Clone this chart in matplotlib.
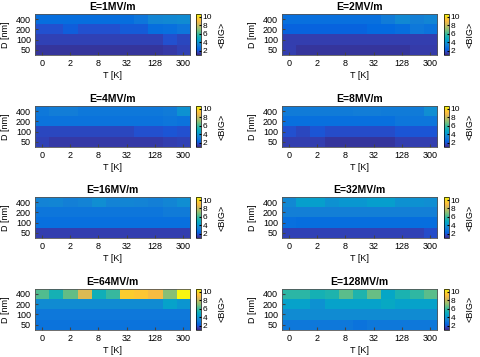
import matplotlib
matplotlib.use('Agg')
import matplotlib.pyplot as plt
import numpy as np
from matplotlib.colors import LinearSegmentedColormap

plt.rcParams['font.family'] = ['Liberation Sans', 'DejaVu Sans']

# Datos: filas D = 50, 100, 200, 400 nm ; columnas T
t_labels = ['0', '2', '8', '32', '128', '300']
d_labels = ['50', '100', '200', '400']
titles = ['E=1MV/m', 'E=2MV/m', 'E=4MV/m', 'E=8MV/m',
          'E=16MV/m', 'E=32MV/m', 'E=64MV/m', 'E=128MV/m']

e1 = [[1.3, 1.3, 1.3, 1.3, 1.3, 1.3, 1.3, 1.3, 1.3, 1.4, 1.6],
      [1.6, 1.6, 1.6, 1.6, 1.6, 1.6, 1.6, 1.6, 1.6, 1.9, 1.7],
      [1.9, 1.9, 2.2, 1.9, 1.9, 1.9, 2.1, 2.1, 2.6, 2.7, 2.9],
      [2.6, 2.6, 2.6, 2.6, 2.6, 2.6, 2.6, 2.9, 3.5, 3.6, 3.7]]
e2 = [[1.5, 1.3, 1.3, 1.3, 1.3, 1.3, 1.3, 1.3, 1.3, 1.45, 1.45],
      [1.5, 1.5, 1.5, 1.5, 1.5, 1.5, 1.5, 1.5, 1.5, 1.5, 1.5],
      [2.3, 2.3, 2.3, 2.3, 2.3, 2.3, 2.5, 2.5, 2.6, 3.0, 2.8],
      [2.7, 2.7, 2.7, 2.7, 2.7, 2.7, 2.7, 3.1, 3.6, 3.3, 3.5]]
e4 = [[1.6, 1.4, 1.4, 1.4, 1.4, 1.4, 1.4, 1.4, 1.4, 1.5, 1.6],
      [1.7, 1.7, 1.7, 1.7, 1.7, 1.7, 1.7, 1.9, 1.9, 2.0, 1.9],
      [2.8, 2.8, 2.8, 2.8, 2.8, 2.8, 2.8, 2.8, 2.8, 2.9, 2.8],
      [3.0, 3.2, 3.2, 3.0, 3.0, 3.0, 3.0, 3.0, 3.0, 3.1, 3.9]]
e8 = [[1.5, 1.5, 1.5, 1.3, 1.3, 1.3, 1.3, 1.3, 1.5, 1.5, 1.5],
      [1.9, 1.7, 2.0, 1.8, 1.8, 1.8, 1.8, 1.8, 2.0, 2.0, 2.0],
      [2.7, 2.7, 2.7, 2.7, 2.7, 2.7, 2.7, 2.7, 2.9, 2.9, 2.9],
      [3.1, 3.1, 3.1, 3.1, 3.1, 3.2, 3.2, 3.1, 3.1, 3.1, 3.8]]
e16 = [[1.5, 1.5, 1.5, 1.5, 1.5, 1.5, 1.5, 1.5, 1.5, 1.5, 1.5],
       [2.7, 2.7, 2.7, 2.7, 2.7, 2.7, 2.7, 2.7, 2.7, 2.7, 2.7],
       [2.9, 2.9, 2.9, 2.9, 2.9, 2.9, 2.9, 2.9, 2.9, 3.1, 3.1],
       [3.4, 3.5, 3.3, 3.4, 3.8, 3.4, 3.5, 3.4, 3.3, 3.5, 3.8]]
e32 = [[1.6, 1.6, 1.6, 1.6, 1.6, 1.6, 1.6, 1.6, 1.6, 1.6, 1.8],
       [2.7, 2.6, 2.6, 2.6, 2.6, 2.6, 2.6, 2.6, 2.6, 2.6, 2.6],
       [3.3, 3.3, 3.3, 3.3, 3.3, 3.3, 3.3, 3.3, 3.3, 3.3, 3.3],
       [3.6, 4.4, 4.4, 3.9, 4.1, 4.1, 4.3, 4.3, 3.9, 3.9, 3.8]]
e64 = [[2.8, 2.8, 2.8, 2.8, 2.8, 2.8, 2.8, 2.8, 2.8, 2.8, 2.8],
       [3.0, 3.0, 3.0, 3.0, 3.0, 3.0, 3.0, 3.0, 3.0, 3.0, 3.0],
       [3.7, 3.7, 3.7, 3.7, 3.7, 3.7, 3.7, 3.7, 3.7, 4.5, 4.0],
       [6.3, 5.3, 6.5, 8.4, 5.2, 5.9, 9.6, 9.4, 9.0, 7.0, 10.6]]
e128 = [[3.0, 3.0, 3.0, 3.0, 3.0, 2.8, 3.0, 3.0, 3.0, 3.0, 3.0],
        [3.7, 3.7, 3.7, 3.7, 3.7, 3.7, 3.7, 3.7, 3.7, 3.7, 3.7],
        [4.5, 4.5, 3.9, 4.5, 4.5, 4.5, 4.5, 4.8, 4.5, 4.5, 4.5],
        [5.7, 5.7, 5.3, 5.5, 6.4, 5.5, 6.6, 4.7, 5.4, 5.8, 6.4]]

datos = [e1, e2, e4, e8, e16, e32, e64, e128]

# Mapa de colores parula (version R2014b, muestras de la tabla de 64)
parula = LinearSegmentedColormap.from_list('parula', [
    (0.2081, 0.1663, 0.5292), (0.2081, 0.2386, 0.6771), (0.1253, 0.3242, 0.8303),
    (0.0060, 0.4086, 0.8828), (0.0498, 0.4586, 0.8641), (0.0779, 0.5040, 0.8384),
    (0.0641, 0.5570, 0.8240), (0.0265, 0.6137, 0.8135), (0.0228, 0.6535, 0.7768),
    (0.0590, 0.6838, 0.7254), (0.1453, 0.7098, 0.6646), (0.2586, 0.7317, 0.5954),
    (0.3953, 0.7459, 0.5244), (0.5300, 0.7491, 0.4661), (0.6473, 0.7456, 0.4188),
    (0.7525, 0.7384, 0.3768), (0.8507, 0.7299, 0.3360), (0.9450, 0.7261, 0.2886),
    (0.9990, 0.7653, 0.2164), (0.9789, 0.8271, 0.1633), (0.9589, 0.8949, 0.1132),
    (0.9763, 0.9831, 0.0538)])

fig = plt.figure(figsize=(4.8, 3.57), dpi=100)

lefts = [0.073, 0.5875]
cb_lefts = [0.408, 0.925]
bottoms = [0.846, 0.588, 0.333, 0.076]
w, h = 0.323, 0.115

for i, d in enumerate(datos):
    fila, col = i // 2, i % 2
    ax = fig.add_axes([lefts[col], bottoms[fila], w, h])
    im = ax.imshow(np.array(d), origin='lower', aspect='auto', cmap=parula,
                   vmin=1.0, vmax=10.7, interpolation='nearest')
    ax.set_xticks(range(0, 11, 2))
    ax.set_xticklabels(t_labels)
    ax.set_yticks(range(4))
    ax.set_yticklabels(d_labels)
    ax.tick_params(labelsize=6.5, length=2, direction='in', pad=3, color='#444444')
    for s in ax.spines.values():
        s.set_color('#555555')
        s.set_linewidth(0.6)
    ax.set_title(titles[i], fontsize=7.5, fontweight='bold', pad=3)
    ax.set_xlabel('T [K]', fontsize=6.5, labelpad=2)
    ax.set_ylabel('D [nm]', fontsize=6.5)
    ax.yaxis.set_label_coords(-0.16, 0.5)

    cax = fig.add_axes([cb_lefts[col], bottoms[fila], 0.011, h])
    cb = fig.colorbar(im, cax=cax, ticks=[2, 4, 6, 8, 10])
    cb.ax.tick_params(labelsize=6, length=1.5, pad=1, direction='in')
    cb.outline.set_linewidth(0.5)
    cb.set_label('<BIG>', fontsize=6.5, labelpad=4)

plt.savefig('out.png', dpi=100)
